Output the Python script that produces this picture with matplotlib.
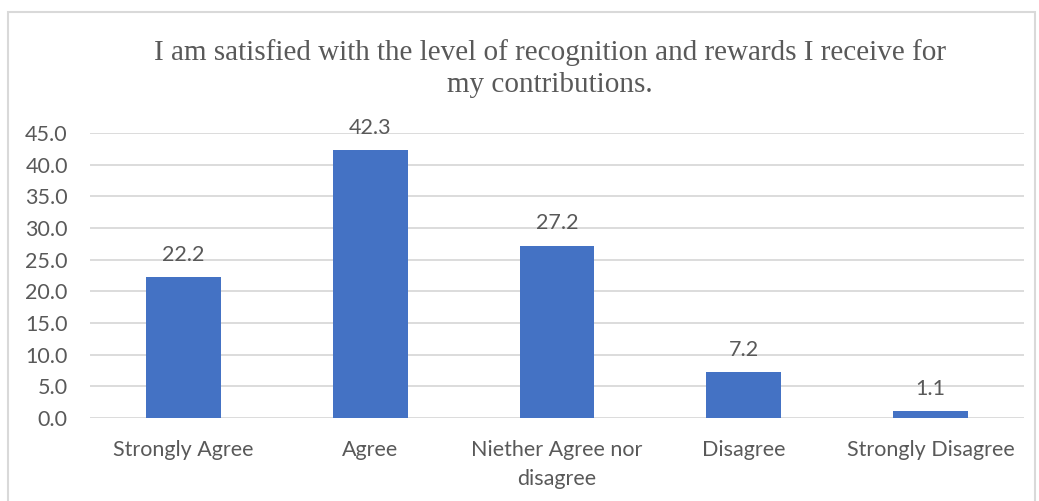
import matplotlib.pyplot as plt
import numpy as np

# Survey responses (%)
categories = ['Strongly Agree', 'Agree', 'Niether Agree nor\ndisagree', 'Disagree', 'Strongly Disagree']
percents = [22.2, 42.3, 27.2, 7.2, 1.1]
yticks = [0, 5, 10, 15, 20, 25, 30, 35, 40, 45]

title = 'I am satisfied with the level of recognition and rewards I receive for\nmy contributions.'

bar_color = '#4472C4'
text_color = '#595959'
grid_color = '#D9D9D9'

fig = plt.figure(figsize=(10.39, 5.01), dpi=100)
ax = fig.add_axes([90/1039, 1 - 418/501, (1024 - 90)/1039, (418 - 133)/501])

x = np.arange(len(categories))
bars = ax.bar(x, percents, width=0.40, color=bar_color, zorder=3)

ax.set_xlim(-0.5, len(categories) - 0.5)
ax.set_ylim(0, 45)
ax.set_yticks(yticks)
ax.set_yticklabels([f'{v:.1f}' for v in yticks])
ax.set_xticks(x)
ax.set_xticklabels(categories, linespacing=1.55)

ax.grid(True, axis='y', color=grid_color, linewidth=1.3, zorder=0)
for s in ax.spines.values():
    s.set_visible(False)
ax.tick_params(axis='both', length=0, labelsize=15.5, labelcolor=text_color, labelfontfamily='Lato')
ax.tick_params(axis='y', pad=16)
ax.tick_params(axis='x', pad=16)

# value labels
for bar, v in zip(bars, percents):
    ax.annotate(f'{v:.1f}', (bar.get_x() + bar.get_width()/2, bar.get_height()),
                xytext=(0, 9), textcoords='offset points', ha='center', va='bottom',
                fontsize=15.5, color=text_color, family='Lato')

fig.text(550/1039, 1 - 39/501, title, ha='center', va='top', fontsize=21,
         family='Liberation Serif', color=text_color, linespacing=1.3)

# chart border
fig.patches.append(plt.Rectangle((8/1039, -0.05), (1035 - 8)/1039, 1 - 12/501 + 0.05,
                                 transform=fig.transFigure, fill=False,
                                 edgecolor=grid_color, linewidth=1.5))

fig.savefig('out.png', dpi=100)
